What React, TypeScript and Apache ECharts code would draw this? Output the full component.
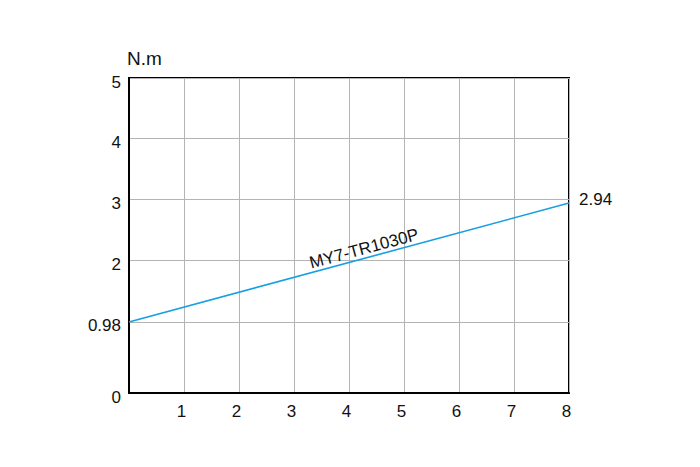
import React, { useEffect, useRef } from "react";
import * as echarts from "echarts";

const speed = [0, 8];
const torque = [0.98, 2.94];
const seriesName = "MY7-TR1030P";
const xTickValues = [1, 2, 3, 4, 5, 6, 7, 8];
const yGridValues = [0.98, 2, 3, 4, 5];
const Y_BOTTOM = -0.19;
const yLabelValues = [Y_BOTTOM, 0.98, 2, 3, 4, 5];
const yUnit = "N.m";

const FONT = "'Liberation Sans', Arial, Helvetica, sans-serif";

export default function App() {
  const ref = useRef<HTMLDivElement>(null);
  useEffect(() => {
    if (!ref.current) return;
    const chart = echarts.init(ref.current, undefined, { renderer: "svg" });
    const data = speed.map((x, i) => [x, torque[i]]);
    chart.setOption({
      animation: false,
      backgroundColor: "#fff",
      grid: {
        left: 129,
        right: 131,
        top: 78,
        bottom: 74,
        show: true,
        borderColor: "#000",
        borderWidth: 2,
        backgroundColor: "transparent",
      },
      xAxis: {
        type: "value",
        min: 0,
        max: 8,
        interval: 1,
        axisLine: { show: true, onZero: false, lineStyle: { color: "#000", width: 2 } },
        axisTick: { show: false },
        splitLine: { show: true, lineStyle: { color: "#b4b4b4", width: 1 } },
        axisLabel: {
          margin: 10,
          fontSize: 17,
          color: "#111",
          fontFamily: FONT,
          padding: [0, 5, 0, 0],
          customValues: xTickValues,
          formatter: (v: number) => String(v),
        },
      },
      yAxis: {
        type: "value",
        min: Y_BOTTOM,
        max: 5,
        name: yUnit,
        nameLocation: "end",
        nameGap: 10,
        nameTextStyle: { fontSize: 19, color: "#111", fontFamily: FONT, align: "left", padding: [0, 0, 0, -2] },
        axisLine: { show: true, onZero: false, lineStyle: { color: "#000", width: 2 } },
        axisTick: { show: false, customValues: yGridValues },
        splitLine: { show: true, lineStyle: { color: "#b4b4b4", width: 1 } },
        axisLabel: {
          margin: 8,
          color: "#111",
          customValues: yLabelValues,
          formatter: (v: number) => "{a|" + (Math.abs(v - Y_BOTTOM) < 1e-6 ? "0" : String(v)) + "}",
          rich: {
            a: { fontSize: 17, color: "#111", fontFamily: FONT, padding: [8, 0, 0, 0] },
          },
        },
      },
      series: [
        {
          type: "line",
          name: seriesName,
          data,
          showSymbol: false,
          symbol: "none",
          lineStyle: { color: "#179fe3", width: 1.6 },
          endLabel: {
            show: true,
            formatter: (p: any) => String(p.value[1]),
            fontSize: 17,
            color: "#111",
            fontFamily: FONT,
            distance: 10,
            offset: [0, -4],
          },
          markLine: {
            silent: true,
            symbol: "none",
            lineStyle: { color: "transparent", width: 0 },
            label: {
              show: true,
              position: "insideMiddleTop",
              formatter: seriesName,
              fontSize: 17,
              color: "#111",
              fontFamily: FONT,
              distance: 1,
              offset: [18, 0],
            },
            data: [[{ coord: data[0] }, { coord: data[1] }]],
          },
        },
      ],
    });
    return () => chart.dispose();
  }, []);
  return <div ref={ref} style={{ width: 700, height: 467, margin: -8 }} />;
}
